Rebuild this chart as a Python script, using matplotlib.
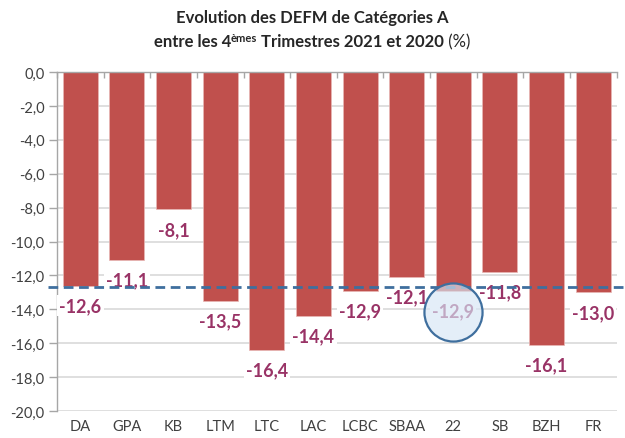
import matplotlib
matplotlib.use("Agg")
import matplotlib.pyplot as plt
import matplotlib.transforms as mtransforms
import numpy as np

# Data
categories = ["DA", "GPA", "KB", "LTM", "LTC", "LAC", "LCBC", "SBAA", "22", "SB", "BZH", "FR"]
values = [-12.6, -11.1, -8.1, -13.5, -16.4, -14.4, -12.9, -12.1, -12.9, -11.8, -16.1, -13.0]
reference_level = -12.7
highlight = "22"
yticks = [0, -2, -4, -6, -8, -10, -12, -14, -16, -18, -20]

FONT = "Lato"
BAR_COLOR = "#C0504D"
LABEL_COLOR = "#993366"
TEXT_COLOR = "#404040"
GRID_COLOR = "#D9D9D9"
AXIS_COLOR = "#A6A6A6"
LINE_COLOR = "#3F6F9E"

plt.rcParams["font.family"] = [FONT, "DejaVu Sans"]

fig = plt.figure(figsize=(6.25, 4.39), dpi=100)
ax = fig.add_axes([57 / 625, 1 - 412 / 439, (616.5 - 57) / 625, (412 - 73) / 439])

x = np.arange(len(categories))
ax.bar(x, values, width=0.75, color=BAR_COLOR, edgecolor="#E8B7B5", linewidth=0.5, zorder=2)

ax.set_xlim(-0.5, len(categories) - 0.5)
ax.set_ylim(-20, 0)

# y axis
ax.set_yticks(yticks)
ax.set_yticklabels([f"{v:.1f}".replace(".", ",") for v in yticks], fontsize=10.5, color=TEXT_COLOR)
ax.tick_params(axis="y", length=6, width=1, color=AXIS_COLOR, pad=3, direction="out")
ax.yaxis.grid(True, color=GRID_COLOR, linewidth=1.2, zorder=0)
ax.set_axisbelow(True)

# x axis: labels at bottom, tick marks at category boundaries along the top
ax.set_xticks(x)
ax.set_xticklabels(categories, fontsize=10.5, color=TEXT_COLOR)
ax.tick_params(axis="x", which="major", length=0, pad=6)
ax.set_xticks(np.arange(-0.5, len(categories)), minor=True)
ax.tick_params(axis="x", which="minor", top=True, bottom=False, direction="in",
               length=4, width=1, color=AXIS_COLOR)

for side in ("right", "bottom"):
    ax.spines[side].set_visible(False)
ax.spines["left"].set_color(AXIS_COLOR)
ax.spines["top"].set_color(AXIS_COLOR)
ax.spines["left"].set_linewidth(1)
ax.spines["top"].set_linewidth(1)

# value labels below each bar
for xi, v in zip(x, values):
    ax.annotate(f"{v:.1f}".replace(".", ","), xy=(xi, v), xytext=(0, -20),
                textcoords="offset pixels", ha="center", va="center",
                fontsize=13, fontweight="bold", color=LABEL_COLOR, zorder=4,
                bbox=dict(boxstyle="square,pad=0.12", facecolor="white", edgecolor="none"))

# dashed reference level across the chart
trans = mtransforms.blended_transform_factory(ax.transAxes, ax.transData)
ax.plot([-0.016, 1.02], [reference_level, reference_level], transform=trans,
        color=LINE_COLOR, linewidth=2, linestyle=(0, (3.5, 2)), clip_on=False, zorder=5)

# circle around the highlighted label
hi = categories.index(highlight)
circ_trans = mtransforms.offset_copy(ax.transData, fig=fig, x=0, y=-21, units="dots")
ax.scatter([hi], [values[hi]], s=1750, transform=circ_trans,
           facecolor=(0.84, 0.90, 0.96, 0.65), edgecolor=LINE_COLOR, linewidth=1.6,
           zorder=6, clip_on=False)

# title with mixed weights and superscript
fig.canvas.draw()
renderer = fig.canvas.get_renderer()

fig.text(0.5, 1 - 18 / 439, "Evolution des DEFM de Catégories A", ha="center", va="center",
         fontsize=12, fontweight="bold", color="#262626")

y2 = 1 - 42 / 439
pieces = [
    ("entre les 4", 12, "bold", 0),
    ("èmes", 8, "bold", 5),
    (" Trimestres 2021 et 2020", 12, "bold", 0),
    (" (%)", 12, "normal", 0),
]
objs = []
for txt, size, weight, rise in pieces:
    t = fig.text(0, y2, txt, ha="left", va="baseline", fontsize=size, fontweight=weight,
                 color="#262626")
    objs.append((t, rise))
fig.canvas.draw()
widths = [t.get_window_extent(renderer).width for t, _ in objs]
total = sum(widths)
start = 312 - total / 2
base_px = 439 - 47
cur = start
for (t, rise), w in zip(objs, widths):
    t.set_position((cur / 625, (base_px + rise) / 439))
    cur += w

fig.savefig("out.png", dpi=100)
